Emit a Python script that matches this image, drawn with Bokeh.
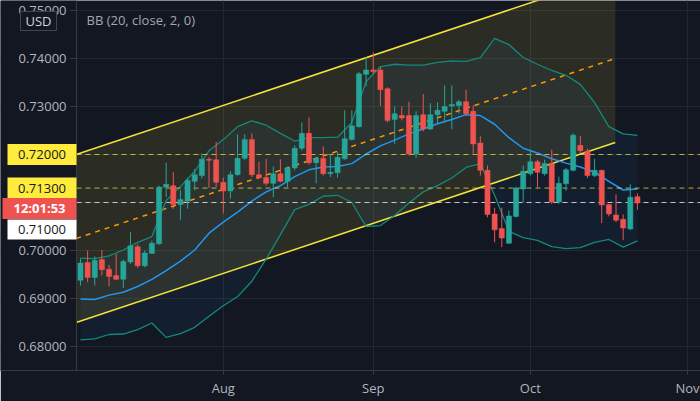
from bokeh.plotting import figure
from bokeh.models import Range1d, FixedTicker, Label, ColumnDataSource
from bokeh.core.properties import value
from bokeh.embed import file_html
from bokeh.resources import INLINE

# ---------------- data ----------------
bar_idx = list(range(79))
opens = [0.6938, 0.6975, 0.6944, 0.6981, 0.6961, 0.6948, 0.6940, 0.6976, 0.7008, 0.6968,
         0.6994, 0.7014, 0.7132, 0.7135, 0.7096, 0.7103, 0.7144, 0.7156, 0.7190, 0.7189,
         0.7142, 0.7124, 0.7158, 0.7192, 0.7231, 0.7158, 0.7152, 0.7140, 0.7160, 0.7144,
         0.7172, 0.7213, 0.7244, 0.7183, 0.7192, 0.7160, 0.7162, 0.7191, 0.7231, 0.7258,
         0.7367, 0.7376, 0.7376, 0.7337, 0.7273, 0.7281, 0.7281, 0.7201, 0.7283, 0.7253,
         0.7283, 0.7290, 0.7301, 0.7302, 0.7310, 0.7290, 0.7224, 0.7167, 0.7076, 0.7046,
         0.7015, 0.7071, 0.7128, 0.7160, 0.7185, 0.7160, 0.7181, 0.7101, 0.7139, 0.7167,
         0.7219, 0.7207, 0.7156, 0.7167, 0.7096, 0.7074, 0.7065, 0.7045, 0.7112]
highs = [0.6983, 0.7000, 0.6988, 0.7001, 0.6970, 0.6993, 0.6981, 0.7038, 0.7013, 0.7000,
         0.7021, 0.7135, 0.7183, 0.7163, 0.7126, 0.7151, 0.7170, 0.7202, 0.7194, 0.7226,
         0.7152, 0.7165, 0.7242, 0.7242, 0.7244, 0.7185, 0.7191, 0.7175, 0.7190, 0.7175,
         0.7219, 0.7267, 0.7277, 0.7195, 0.7217, 0.7201, 0.7205, 0.7292, 0.7292, 0.7372,
         0.7403, 0.7413, 0.7382, 0.7340, 0.7300, 0.7300, 0.7310, 0.7290, 0.7326, 0.7307,
         0.7309, 0.7344, 0.7344, 0.7314, 0.7335, 0.7302, 0.7238, 0.7177, 0.7089, 0.7089,
         0.7083, 0.7133, 0.7177, 0.7210, 0.7189, 0.7189, 0.7210, 0.7154, 0.7172, 0.7244,
         0.7238, 0.7212, 0.7191, 0.7168, 0.7097, 0.7117, 0.7075, 0.7138, 0.7119]
lows = [0.6927, 0.6934, 0.6927, 0.6948, 0.6925, 0.6938, 0.6922, 0.6972, 0.6964, 0.6965,
        0.6993, 0.7012, 0.7111, 0.7087, 0.7064, 0.7087, 0.7125, 0.7150, 0.7130, 0.7132,
        0.7077, 0.7108, 0.7156, 0.7188, 0.7153, 0.7149, 0.7135, 0.7111, 0.7142, 0.7132,
        0.7167, 0.7208, 0.7179, 0.7140, 0.7156, 0.7153, 0.7152, 0.7189, 0.7229, 0.7256,
        0.7342, 0.7368, 0.7301, 0.7267, 0.7222, 0.7271, 0.7198, 0.7193, 0.7248, 0.7251,
        0.7264, 0.7267, 0.7253, 0.7285, 0.7281, 0.7202, 0.7156, 0.7069, 0.7017, 0.7007,
        0.7014, 0.7069, 0.7101, 0.7156, 0.7131, 0.7156, 0.7097, 0.7097, 0.7124, 0.7165,
        0.7203, 0.7151, 0.7153, 0.7057, 0.7071, 0.7059, 0.7022, 0.7042, 0.7085]
closes = [0.6974, 0.6944, 0.6979, 0.6960, 0.6946, 0.6940, 0.6977, 0.7010, 0.6968, 0.6995,
          0.7015, 0.7132, 0.7138, 0.7096, 0.7106, 0.7146, 0.7158, 0.7190, 0.7188, 0.7142,
          0.7124, 0.7158, 0.7192, 0.7231, 0.7158, 0.7152, 0.7140, 0.7160, 0.7144, 0.7172,
          0.7213, 0.7244, 0.7183, 0.7192, 0.7160, 0.7163, 0.7194, 0.7233, 0.7260, 0.7368,
          0.7376, 0.7373, 0.7335, 0.7271, 0.7285, 0.7276, 0.7201, 0.7281, 0.7253, 0.7283,
          0.7292, 0.7300, 0.7304, 0.7310, 0.7285, 0.7222, 0.7167, 0.7075, 0.7043, 0.7026,
          0.7072, 0.7130, 0.7165, 0.7185, 0.7163, 0.7181, 0.7101, 0.7140, 0.7168, 0.7240,
          0.7208, 0.7156, 0.7167, 0.7095, 0.7076, 0.7063, 0.7047, 0.7111, 0.7099]

bb_idx = list(range(0, 79, 2))
bb_basis = [0.6899, 0.6898, 0.6907, 0.6913, 0.6925, 0.6940, 0.6958, 0.6978, 0.7001, 0.7036,
            0.7059, 0.7080, 0.7103, 0.7122, 0.7135, 0.7154, 0.7168, 0.7174, 0.7175, 0.7181,
            0.7201, 0.7218, 0.7230, 0.7243, 0.7253, 0.7264, 0.7273, 0.7283, 0.7281, 0.7263,
            0.7235, 0.7213, 0.7203, 0.7191, 0.7182, 0.7174, 0.7163, 0.7144, 0.7126, 0.7128]
bb_upper = [0.6984, 0.6983, 0.6989, 0.7001, 0.7017, 0.7029, 0.7104, 0.7133, 0.7165, 0.7208,
            0.7231, 0.7258, 0.7270, 0.7261, 0.7244, 0.7228, 0.7235, 0.7235, 0.7236, 0.7267,
            0.7352, 0.7383, 0.7388, 0.7386, 0.7386, 0.7392, 0.7395, 0.7394, 0.7402, 0.7442,
            0.7429, 0.7402, 0.7388, 0.7375, 0.7365, 0.7346, 0.7308, 0.7258, 0.7243, 0.7240]
bb_lower = [0.6814, 0.6816, 0.6825, 0.6826, 0.6835, 0.6849, 0.6819, 0.6827, 0.6840, 0.6863,
            0.6885, 0.6904, 0.6936, 0.6982, 0.7033, 0.7085, 0.7096, 0.7113, 0.7115, 0.7100,
            0.7050, 0.7052, 0.7073, 0.7099, 0.7122, 0.7135, 0.7151, 0.7173, 0.7181, 0.7115,
            0.7040, 0.7027, 0.7021, 0.7008, 0.7004, 0.7006, 0.7017, 0.7023, 0.7007, 0.7020]

channel_x = [-0.6, 74.9]
channel_upper = [0.7200, 0.7575]
channel_lower = [0.6850, 0.7225]
channel_mid = [0.7025, 0.7400]

level_lines = [0.7200, 0.7130]
level_labels = ["0.72000", "0.71300"]
last_price = 0.7100
last_price_label = "0.71000"
countdown_label = "12:01:53"
currency_label = "USD"
indicator_label = "BB (20, close, 2, 0)"

tick_idx = [20, 41, 63, 85]
tick_labels = ["Aug", "Sep", "Oct", "Nov"]
price_ticks = [0.68, 0.69, 0.70, 0.73, 0.74, 0.75]
grid_ticks = [0.68, 0.69, 0.70, 0.71, 0.72, 0.73, 0.74, 0.75]

# ---------------- layout / styling ----------------
FONT = "Open Sans"
BG = "#131722"
UP = "#26a69a"
DOWN = "#ef5350"
AXIS_C = "#363a45"
LABEL_C = "#b2b5be"

X0, X1 = -11.20, 86.83          # bar-index range across the whole 700 px width
Y0, Y1 = 0.6750, 0.75208        # price range across the 370 px plot height
W = 700
PX_PER_BAR = W / (X1 - X0)
PX_PER_PRICE = 370 / (Y1 - Y0)
SCALE_W = 76                    # width of the price scale on the left


def px_x(px):
    return X0 + px / PX_PER_BAR


def shift(price, px):
    return price - px / PX_PER_PRICE


p = figure(width=W, height=401, output_backend="svg", toolbar_location=None,
           x_range=Range1d(X0, X1), y_range=Range1d(Y0, Y1), y_axis_location=None,
           min_border=0, min_border_left=0, min_border_bottom=31,
           min_border_top=0, min_border_right=0)
p.background_fill_color = BG
p.border_fill_color = BG
p.outline_line_color = None

p.xgrid.ticker = FixedTicker(ticks=tick_idx)
p.ygrid.ticker = FixedTicker(ticks=grid_ticks)
for g in (p.xgrid, p.ygrid):
    g.grid_line_color = "#232733"
    g.grid_line_width = 1

p.xaxis.ticker = FixedTicker(ticks=tick_idx)
p.xaxis.major_label_overrides = dict(zip(tick_idx, tick_labels))
p.xaxis.axis_line_color = AXIS_C
p.xaxis.major_tick_line_color = AXIS_C
p.xaxis.minor_tick_line_color = None
p.xaxis.major_tick_in = 0
p.xaxis.major_tick_out = 4
p.xaxis.major_label_standoff = 4
p.xaxis.major_label_text_color = LABEL_C
p.xaxis.major_label_text_font = FONT
p.xaxis.major_label_text_font_size = "13px"

# Bollinger band fill
p.varea(x=bb_idx, y1=bb_lower, y2=bb_upper, fill_color="#2196f3", fill_alpha=0.06)

# parallel channel
p.patch(x=[channel_x[0], channel_x[1], channel_x[1], channel_x[0]],
        y=[channel_upper[0], channel_upper[1], channel_lower[1], channel_lower[0]],
        fill_color="#ffeb3b", fill_alpha=0.1, line_color=None)
p.line(channel_x, channel_upper, line_color="#f5e23a", line_width=1.5)
p.line(channel_x, channel_lower, line_color="#f5e23a", line_width=1.5)
p.line(channel_x, channel_mid, line_color="#ff9800", line_width=1.5, line_dash="5 5")

# Bollinger lines
p.line(bb_idx, bb_upper, line_color="#128a7c", line_width=1.3)
p.line(bb_idx, bb_lower, line_color="#128a7c", line_width=1.3)
p.line(bb_idx, bb_basis, line_color="#2196f3", line_width=1.5)

# horizontal levels
n_lv = len(level_lines)
p.segment(x0=[px_x(SCALE_W)] * n_lv, x1=[X1] * n_lv, y0=level_lines, y1=level_lines,
          line_color="#ffeb3b", line_alpha=0.7, line_width=1, line_dash="5 4")
p.segment(x0=[px_x(SCALE_W)], x1=[X1], y0=[last_price], y1=[last_price],
          line_color="#e0e3eb", line_alpha=0.85, line_width=1, line_dash="5 4")

# candles
colors = [UP if c >= o else DOWN for o, c in zip(opens, closes)]
src = ColumnDataSource(dict(
    x=bar_idx, h=highs, l=lows,
    top=[max(o, c) for o, c in zip(opens, closes)],
    bottom=[min(o, c) for o, c in zip(opens, closes)],
    color=colors))
p.segment(x0="x", y0="l", x1="x", y1="h", line_color="color", line_width=1, source=src)
p.vbar(x="x", top="top", bottom="bottom", width=0.72, fill_color="color",
       line_color="color", line_width=0.5, source=src)

# ---------------- price scale on the left ----------------
p.quad(left=[X0], right=[px_x(SCALE_W)], bottom=[Y0], top=[Y1], fill_color=BG, line_color=None)
p.segment(x0=[px_x(SCALE_W)], x1=[px_x(SCALE_W)], y0=[Y0], y1=[Y1], line_color=AXIS_C, line_width=1)
n_g = len(grid_ticks)
p.segment(x0=[px_x(69)] * n_g, x1=[px_x(SCALE_W)] * n_g, y0=grid_ticks, y1=grid_ticks,
          line_color=AXIS_C, line_width=1)
p.text(x=[px_x(66)] * len(price_ticks), y=price_ticks, text=[f"{v:.5f}" for v in price_ticks],
       text_align="right", text_baseline="middle", text_font=value(FONT),
       text_font_size=value("13px"), text_color=LABEL_C)

# coloured price labels
box_y = level_lines + [shift(last_price, 6), shift(last_price, 27)]
box_text = level_labels + [countdown_label, last_price_label]
box_fill = ["#ffeb3b", "#ffeb3b", "#ef5350", "#ffffff"]
box_color = ["#131722", "#131722", "#ffffff", "#131722"]
box_w = [69, 69, 74, 69]
box_cx = [px_x(41.5), px_x(41.5), px_x(39), px_x(41.5)]
p.rect(x=box_cx, y=box_y, width=box_w, height=[21, 21, 21, 20],
       width_units="screen", height_units="screen", fill_color=box_fill, line_color=None)
p.text(x=box_cx[:2] + [box_cx[3]], y=box_y[:2] + [box_y[3]],
       text=[box_text[0], box_text[1], box_text[3]],
       text_align="center", text_baseline="middle", text_font=value(FONT),
       text_font_size=value("13px"), text_color="#131722")
p.text(x=[box_cx[2]], y=[box_y[2]], text=[box_text[2]],
       text_align="center", text_baseline="middle", text_font=value(FONT),
       text_font_size=value("13px"), text_font_style="bold", text_color="#ffffff")

# currency badge
usd_y = shift(Y1, 20.5)
p.rect(x=[px_x(38)], y=[usd_y], width=36, height=19, width_units="screen", height_units="screen",
       fill_color=BG, line_color="#434651", line_width=1)
p.text(x=[px_x(38)], y=[usd_y], text=[currency_label], text_align="center", text_baseline="middle",
       text_font=value(FONT), text_font_size=value("13px"), text_color="#d1d4dc")

# indicator caption
p.add_layout(Label(x=86, y=351, x_units="screen", y_units="screen", text=indicator_label,
                   text_font=FONT, text_font_size="13px", text_color="#a3a6af",
                   text_baseline="middle", text_align="left"))

open("out.html", "w").write(file_html(p, INLINE))
